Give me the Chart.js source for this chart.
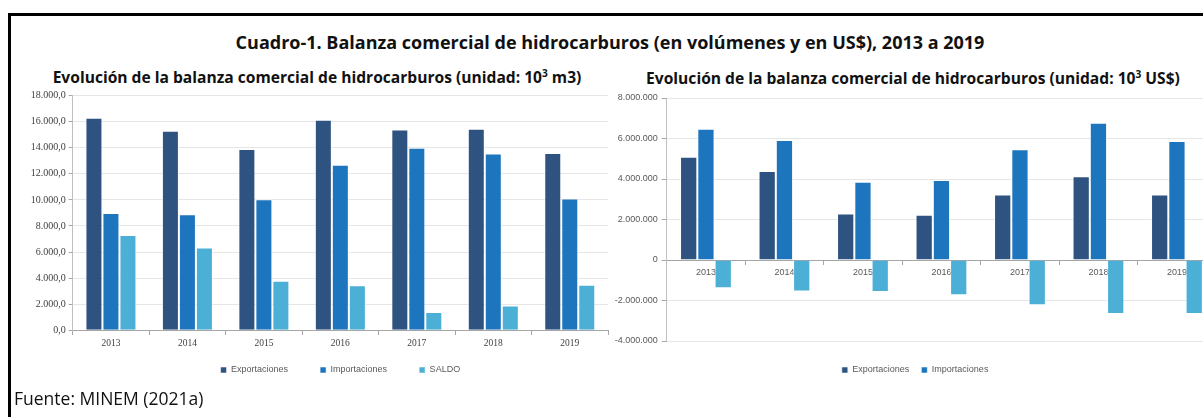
<!DOCTYPE html>
<html lang="es">
<head>
<meta charset="utf-8">
<title>Cuadro-1. Balanza comercial de hidrocarburos</title>
<script src="https://cdn.jsdelivr.net/npm/chart.js@4.4.1/dist/chart.umd.min.js"></script>
<style>
  body {
    margin: 0;
    width: 1203px;
    height: 417px;
    overflow: hidden;
    background: #fff;
    position: relative;
    font-family: "Open Sans", sans-serif;
    color: #111;
  }
  #frame {
    position: absolute;
    left: 8px;
    top: 13px;
    width: 1300px;
    height: 500px;
    border-left: 3px solid #000;
    border-top: 3px solid #000;
  }
  .ttl {
    position: absolute;
    white-space: nowrap;
    font-weight: bold;
    transform: translateX(-50%);
  }
  #main-title { left: 610px; top: 30px; font-size: 18px; line-height: 24px; }
  #sub-vol { left: 317px; top: 66px; font-size: 15.6px; line-height: 22px; }
  #sub-usd { left: 913px; top: 67px; font-size: 15.6px; line-height: 22px; }
  sup { font-size: 0.65em; line-height: 0; }
  #source { position: absolute; left: 14px; top: 387px; font-size: 17.5px; line-height: 22px; }
  canvas { position: absolute; }
  #chart-vol { left: 14px; top: 88px; }
  #chart-usd { left: 600px; top: 88px; }
</style>
</head>
<body>
<div id="frame"></div>
<div class="ttl" id="main-title">Cuadro-1. Balanza comercial de hidrocarburos (en volúmenes y en US$), 2013 a 2019</div>
<div class="ttl" id="sub-vol">Evolución de la balanza comercial de hidrocarburos (unidad: 10<sup>3</sup> m3)</div>
<div class="ttl" id="sub-usd">Evolución de la balanza comercial de hidrocarburos (unidad: 10<sup>3</sup> US$)</div>
<canvas id="chart-vol" width="646" height="300"></canvas>
<canvas id="chart-usd" width="634" height="300"></canvas>
<div id="source">Fuente: MINEM (2021a)</div>
<script>
const years = ["2013", "2014", "2015", "2016", "2017", "2018", "2019"];
const seriesNames = ["Exportaciones", "Importaciones", "SALDO"];

// volúmenes (10^3 m3)
const volExport = [16300, 15300, 13900, 16150, 15400, 15450, 13600];
const volImport = [9000, 8900, 10050, 12700, 14000, 13550, 10100];
const volSaldo = [7300, 6350, 3800, 3450, 1400, 1900, 3500];

// valores (10^3 US$)
const usdExport = [5100000, 4390000, 2300000, 2240000, 3240000, 4130000, 3240000];
const usdImport = [6480000, 5920000, 3870000, 3950000, 5470000, 6780000, 5880000];
const usdSaldo = [-1400000, -1550000, -1580000, -1740000, -2240000, -2670000, -2670000];

const seriesColors = ["#2f5381", "#1d75bd", "#4bafd6"];

// 18000 -> "18.000,0"
function fmtNum(v, decimals) {
  const parts = Math.abs(v).toFixed(decimals).split(".");
  const intPart = parts[0].replace(/\B(?=(\d{3})+(?!\d))/g, ".");
  return (v < 0 ? "-" : "") + intPart + (parts[1] ? "," + parts[1] : "");
}

function makeDatasets(values) {
  return values.map((data, i) => ({
    label: seriesNames[i],
    data: data,
    backgroundColor: seriesColors[i],
    borderColor: "rgba(255,255,255,0.55)",
    borderWidth: 1,
  }));
}

const volChart = new Chart(document.getElementById("chart-vol"), {
  type: "bar",
  data: {
    labels: years,
    datasets: makeDatasets([volExport, volImport, volSaldo]),
  },
  options: {
    responsive: false,
    animation: false,
    devicePixelRatio: 1,
    layout: { padding: { top: 7.6, right: 52, bottom: 3.5, left: 0 } },
    datasets: { bar: { categoryPercentage: 0.667, barPercentage: 1 } },
    plugins: {
      legend: {
        position: "bottom",
        fullSize: false,
        // empty title only used as a spacer above the items
        title: { display: true, text: "", font: { size: 1 }, padding: { top: 2, bottom: 0 } },
        labels: {
          boxWidth: 6,
          boxHeight: 6,
          padding: 32,
          color: "#595959",
          font: { family: "Liberation Sans", size: 9 },
        },
      },
      tooltip: { enabled: false },
    },
    scales: {
      x: {
        position: { y: 0 },
        grid: { drawOnChartArea: false, tickLength: 4, tickColor: "#a6a6a6", offset: true },
        border: { color: "#a6a6a6" },
        ticks: { color: "#404040", font: { family: "Liberation Serif", size: 9.5 }, padding: 3, maxRotation: 0 },
      },
      y: {
        min: 0,
        max: 18000,
        ticks: {
          stepSize: 2000,
          callback: (v) => fmtNum(v, 1),
          color: "#404040",
          font: { family: "Liberation Serif", size: 10 },
          padding: 3,
        },
        grid: { color: "#e6e6e6", tickColor: "#a6a6a6", tickLength: 4 },
        border: { color: "#bfbfbf" },
        afterFit: (s) => { s.width = 58.7; s.paddingTop = 0; s.paddingBottom = 0; },
      },
    },
  },
});

const usdChart = new Chart(document.getElementById("chart-usd"), {
  type: "bar",
  data: {
    labels: years,
    datasets: makeDatasets([usdExport, usdImport, usdSaldo]),
  },
  options: {
    responsive: false,
    animation: false,
    devicePixelRatio: 1,
    layout: { padding: { top: 10, right: 17.8, bottom: 3.5, left: 14 } },
    datasets: { bar: { categoryPercentage: 0.66, barPercentage: 1 } },
    plugins: {
      legend: {
        position: "bottom",
        title: { display: true, text: "", font: { size: 1 }, padding: { top: 11.3, bottom: 0 } },
        labels: {
          boxWidth: 6,
          boxHeight: 6,
          padding: 12,
          color: "#595959",
          font: { family: "Liberation Sans", size: 9 },
          filter: (item) => item.datasetIndex < 2,
        },
      },
      tooltip: { enabled: false },
    },
    scales: {
      x: {
        position: { y: 0 },
        grid: { drawOnChartArea: false, tickLength: 4, tickColor: "#a6a6a6", offset: true },
        border: { color: "#a6a6a6" },
        ticks: { color: "#595959", font: { family: "Liberation Sans", size: 9 }, padding: 3, maxRotation: 0 },
      },
      y: {
        min: -4000000,
        max: 8000000,
        ticks: {
          stepSize: 2000000,
          callback: (v) => fmtNum(v, 0),
          color: "#595959",
          font: { family: "Liberation Sans", size: 9 },
          padding: 4,
        },
        grid: { color: "#e6e6e6", tickColor: "#a6a6a6", tickLength: 5 },
        border: { color: "#bfbfbf" },
        afterFit: (s) => { s.width = 52.7; s.paddingTop = 0; s.paddingBottom = 0; },
      },
    },
  },
});
</script>
</body>
</html>
